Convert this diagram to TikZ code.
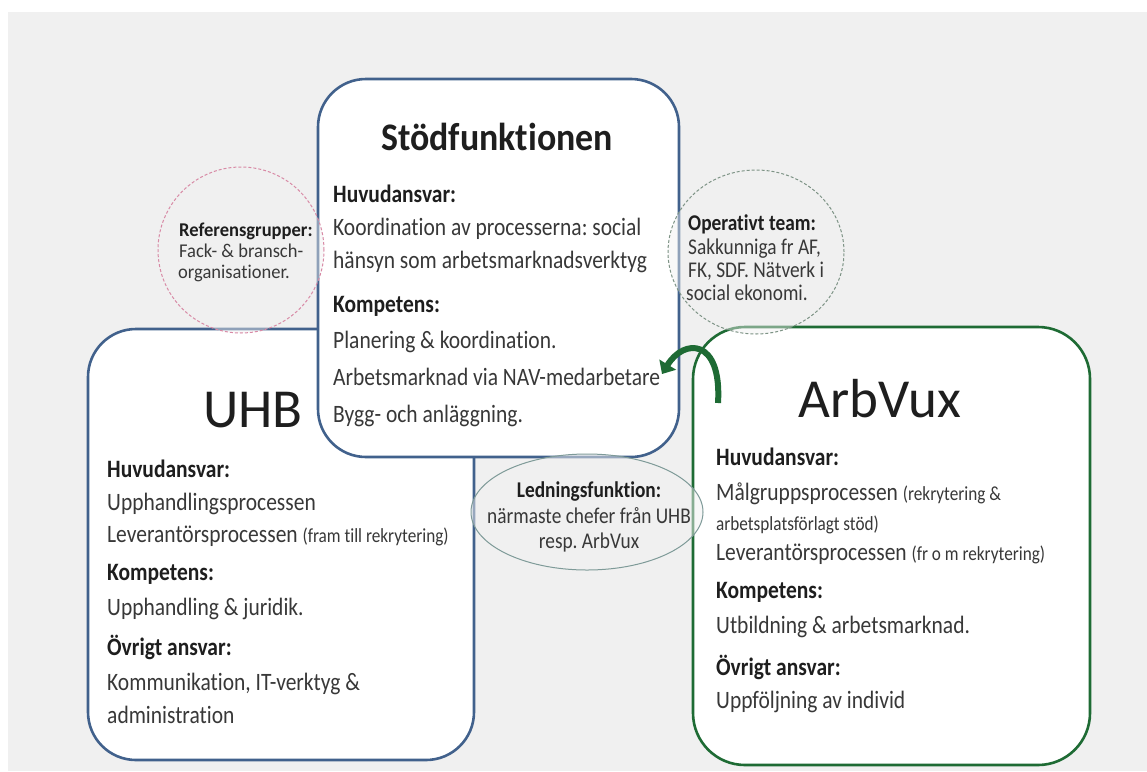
\documentclass[tikz,border=0pt]{standalone}
\usepackage{fontspec}
\setmainfont{Carlito}[Ligatures=NoCommon]
\newfontfamily\cf{Carlito}[FakeStretch=0.86, Ligatures=NoCommon]
\newfontfamily\rf{Carlito}[FakeStretch=0.95, Ligatures=NoCommon]
\newfontfamily\tf{Carlito}[FakeStretch=0.92, Ligatures=NoCommon]
\usetikzlibrary{arrows.meta,shapes.geometric}
\definecolor{bg}{HTML}{F0F0F0}
\definecolor{bluebd}{HTML}{41618C}
\definecolor{greenbd}{HTML}{1E6B34}
\definecolor{txt}{HTML}{383838}
\definecolor{hdc}{HTML}{1E1E1E}
\definecolor{pinkd}{HTML}{D88AA6}
\definecolor{opd}{HTML}{7D9385}
\definecolor{ellbd}{HTML}{7E9A98}
\newcommand{\bodyfont}{\cf\fontsize{25}{28}\selectfont}
\newcommand{\smallfont}{\cf\fontsize{20}{23}\selectfont}
\newcommand{\circfont}{\cf\fontsize{22.5}{25}\selectfont}
\newcommand{\reffont}{\rf\fontsize{19.5}{21}\selectfont}
\frenchspacing
\begin{document}
\begin{tikzpicture}[x=1pt,y=-1pt,
  bigbox/.style={draw, line width=2.6pt, fill=white, rounded corners=48pt, inner sep=0pt, outer sep=0pt},
  hd/.style={anchor=base west, inner sep=0pt, font=\bodyfont\bfseries, text=hdc},
  bd/.style={anchor=base west, inner sep=0pt, font=\bodyfont, text=txt},
  chd/.style={anchor=base west, inner sep=0pt, font=\circfont\bfseries, text=hdc},
  cbd/.style={anchor=base west, inner sep=0pt, font=\circfont, text=txt},
  rhd/.style={anchor=base west, inner sep=0pt, font=\reffont\bfseries, text=hdc},
  rbd/.style={anchor=base west, inner sep=0pt, font=\reffont, text=txt},
  ttl/.style={anchor=base, inner sep=0pt, font=\fontsize{55}{60}\selectfont, text=hdc}]
\path[use as bounding box] (0,0) rectangle (1147,771);
\fill[white] (0,0) rectangle (1147,771);
\fill[bg] (8,12) rectangle (1147,771);

% main boxes
\node[bigbox, draw=bluebd, minimum width=386pt, minimum height=431pt] (uhb) at (281,544.5) {};
\node[bigbox, draw=greenbd, rounded corners=52pt, minimum width=397pt, minimum height=438pt] (arb) at (891.5,546) {};
\node[bigbox, draw=bluebd, minimum width=361pt, minimum height=378pt] (stod) at (498.5,268) {};

% Stödfunktionen text
\node[anchor=base, inner sep=0pt, font=\tf\fontsize{39}{42}\selectfont\bfseries, text=hdc] (st0) at (497,150) {Stödfunktionen};
\node[hd] (st1) at (333,202) {Huvudansvar:};
\node[bd] (st2) at (333,235) {Koordination av processerna: social};
\node[bd] (st3) at (333,268) {hänsyn som arbetsmarknadsverktyg};
\node[hd] (st4) at (333,312) {Kompetens:};
\node[bd] (st5) at (333,348) {Planering \& koordination.};
\node[bd] (st6) at (333,385) {Arbetsmarknad via NAV-medarbetare};
\node[bd] (st7) at (333,422) {Bygg- och anläggning.};

% UHB text
\node[ttl] (u0) at (253,427) {UHB};
\node[hd] (u1) at (107,477) {Huvudansvar:};
\node[bd] (u2) at (107,510) {Upphandlingsprocessen};
\node[bd] (u3) at (107,542) {Leverantörsprocessen {\smallfont (fram till rekrytering)}};
\node[hd] (u4) at (107,580) {Kompetens:};
\node[bd] (u5) at (107,615) {Upphandling \& juridik.};
\node[hd] (u6) at (107,655) {Övrigt ansvar:};
\node[bd] (u7) at (107,690) {Kommunikation, IT-verktyg \&};
\node[bd] (u8) at (107,723) {administration};

% ArbVux text
\node[ttl] (a0) at (880,417) {ArbVux};
\node[hd] (a1) at (716,465) {Huvudansvar:};
\node[bd] (a2) at (716,500) {Målgruppsprocessen {\smallfont (rekrytering \&}};
\node[bd, font=\smallfont] (a3) at (716,530) {arbetsplatsförlagt stöd)};
\node[bd] (a4) at (716,560) {Leverantörsprocessen {\smallfont (fr o m rekrytering)}};
\node[hd] (a5) at (716,598) {Kompetens:};
\node[bd] (a6) at (716,633) {Utbildning \& arbetsmarknad.};
\node[hd] (a7) at (716,675) {Övrigt ansvar:};
\node[bd] (a8) at (716,708) {Uppföljning av individ};

% Referensgrupper circle
\node[circle, draw=pinkd, densely dashed, line width=1pt, fill=bg, fill opacity=0.45, minimum size=166pt] (ref) at (241,250) {};
\node[rhd] (r1) at (179,236) {Referensgrupper:};
\node[rbd] (r2) at (179,257) {Fack- \& bransch-};
\node[rbd] (r3) at (178,278) {organisationer.};

% Operativt team circle
\node[ellipse, draw=opd, densely dashed, line width=1pt, fill=bg, fill opacity=0.45, minimum width=176pt, minimum height=164pt] (op) at (756,252) {};
\node[chd] (o1) at (688,230) {Operativt team:};
\node[cbd] (o2) at (688,254) {Sakkunniga fr AF,};
\node[cbd] (o3) at (688,277) {FK, SDF. Nätverk i};
\node[cbd] (o4) at (686,300) {social ekonomi.};

% Ledningsfunktion ellipse
\node[ellipse, draw=ellbd, line width=1pt, fill=bg, fill opacity=0.5, minimum width=232pt, minimum height=116pt] (led) at (587,512) {};
\node[anchor=base, inner sep=0pt, font=\circfont\bfseries, text=hdc] (l1) at (589,497) {Ledningsfunktion:};
\node[anchor=base, inner sep=0pt, font=\circfont, text=txt] (l2) at (589,523) {närmaste chefer från UHB};
\node[anchor=base, inner sep=0pt, font=\circfont, text=txt] (l3) at (589,548) {resp. ArbVux};

% curved arrow
\coordinate (arA) at (718,403);
\coordinate (arB) at (662,374);
\draw[greenbd, line width=6pt, -{Triangle[width=19pt,length=11pt]}] (arA) .. controls (722,338) and (684,338) .. (arB);
\end{tikzpicture}
\end{document}
